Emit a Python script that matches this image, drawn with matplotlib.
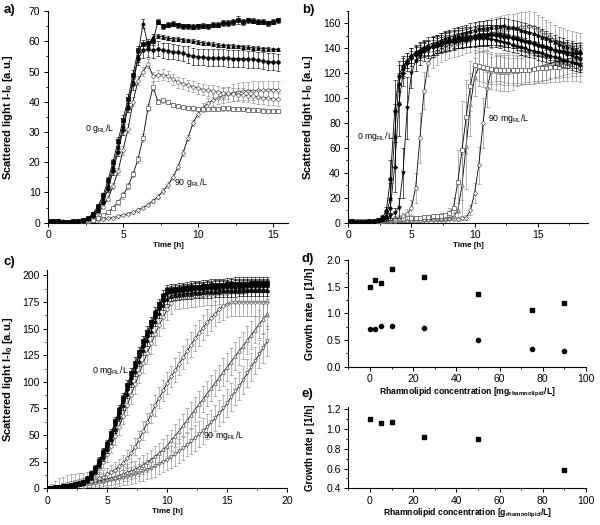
import matplotlib
matplotlib.use('Agg')
import matplotlib.pyplot as plt
from matplotlib.ticker import MultipleLocator

plt.rcParams['font.family'] = ['Liberation Sans', 'DejaVu Sans']
plt.rcParams['mathtext.fontset'] = 'custom'
plt.rcParams['mathtext.rm'] = 'Liberation Sans'
plt.rcParams['mathtext.it'] = 'Liberation Sans'
plt.rcParams['mathtext.bf'] = 'Liberation Sans:bold'

# ---------------- time grids ----------------
TIME_A = [0, 0.33, 0.67, 1, 1.33, 1.67, 2, 2.33, 2.67, 3,
          3.33, 3.67, 4, 4.33, 4.67, 5, 5.33, 5.67, 6, 6.33,
          6.67, 7, 7.33, 7.67, 8, 8.33, 8.67, 9, 9.33, 9.67,
          10, 10.33, 10.67, 11, 11.33, 11.67, 12, 12.33, 12.67, 13,
          13.33, 13.67, 14, 14.33, 14.67, 15, 15.33]
TIME_BC = TIME_A + [15.67, 16, 16.33, 16.67, 17, 17.33, 17.67, 18, 18.33]

# ---------------- panel a (g/L) ----------------
A_SQ = [0.5, 0.5, 0.4, 0.3, 0.3, 0.4, 0.6, 0.9, 1.6, 3.0,
        5.5, 9.0, 14, 20, 27, 34, 41, 49, 57, 59,
        59.5, 60, 66.5, 65, 65.5, 65.8, 65.3, 65, 65, 64.8,
        65, 65.2, 65, 65.5, 65.5, 66, 66, 66.5, 67, 66.5,
        67, 66.8, 66.5, 66.5, 66, 66.5, 67]
A_SQ_ERR = [0.3, 0.3, 0.3, 0.3, 0.3, 0.3, 0.3, 0.3, 0.3, 0.4,
            0.5, 0.8, 1.0, 1.2, 1.5, 1.5, 1.5, 1.5, 1.5, 1.5,
            1.2, 1.2, 0.8, 0.8, 0.8, 0.8, 0.8, 0.8, 0.8, 0.8,
            0.8, 0.8, 0.8, 0.8, 0.9, 0.9, 1.0, 1.0, 1.2, 1.0,
            0.8, 0.8, 0.8, 0.8, 0.8, 0.8, 0.8]
A_TR = [0.4, 0.4, 0.3, 0.3, 0.3, 0.4, 0.5, 0.8, 1.4, 2.6,
        4.8, 8.0, 12.5, 18.5, 25, 32, 39, 47, 55, 66,
        58.5, 61.5, 61.8, 61.5, 61, 60.8, 60.8, 60.5, 60.3, 60,
        59.8, 59.5, 59.3, 59, 58.8, 58.6, 58.5, 58.5, 58.3, 58.2,
        58, 57.8, 57.8, 57.6, 57.5, 57.3, 57.3]
A_TR_ERR = [0.3, 0.3, 0.3, 0.3, 0.3, 0.3, 0.3, 0.3, 0.3, 0.4,
            0.5, 0.7, 1.0, 1.2, 1.5, 1.5, 1.5, 1.5, 2.0, 1.5,
            1.5, 1.0, 0.7, 0.7, 0.6, 0.6, 0.6, 0.6, 0.6, 0.6,
            0.6, 0.6, 0.6, 0.6, 0.6, 0.6, 0.6, 0.6, 0.6, 0.6,
            0.6, 0.6, 0.6, 0.6, 0.6, 0.6, 0.6]
A_CI = [0.5, 0.4, 0.4, 0.3, 0.3, 0.3, 0.4, 0.6, 1.2, 2.2,
        4.0, 7.0, 11, 17, 23.5, 30.5, 38, 46, 54, 57,
        57.3, 57, 57.5, 57, 56.8, 56.5, 56.3, 56, 55.5, 55,
        54.8, 54.8, 54.6, 54.5, 54.5, 54.5, 54.4, 54.3, 54.3, 54.2,
        54, 54, 53.8, 53.5, 53.3, 53.2, 53]
A_CI_ERR = [0.3, 0.3, 0.3, 0.3, 0.3, 0.3, 0.3, 0.3, 0.3, 0.4,
            0.6, 0.8, 1.0, 1.2, 1.5, 1.5, 1.5, 2, 2, 2.5,
            2.5, 2.5, 2.5, 2.5, 2.5, 2.5, 2.5, 2.5, 2.8, 2.8,
            2.8, 2.8, 2.8, 2.8, 2.8, 2.8, 2.8, 2.8, 2.8, 2.8,
            2.8, 2.8, 2.8, 2.8, 2.8, 2.8, 2.8]
A_OC = [0.6, 0.5, 0.4, 0.3, 0.2, 0.3, 0.4, 0.6, 1.0, 2.0,
        3.3, 5.3, 8, 12, 17, 24, 31, 40, 47, 50,
        52.5, 48.5, 48.8, 49, 48.5, 47.5, 46.5, 46, 45.5, 45,
        44.5, 44, 43.8, 43.5, 43.3, 43, 42.8, 42.5, 42.3, 42.2,
        42, 41.8, 41.6, 41.4, 41.2, 41, 40.8]
A_OC_ERR = [0.3, 0.3, 0.3, 0.3, 0.3, 0.3, 0.3, 0.3, 0.3, 0.4,
            0.5, 0.6, 0.8, 1.0, 1.2, 1.5, 1.5, 1.5, 1.5, 1.5,
            1.5, 1.5, 1.8, 1.8, 1.8, 1.8, 1.8, 1.8, 1.8, 1.8,
            1.8, 1.8, 1.8, 2, 2, 2, 2, 2.2, 2.2, 2.2,
            2.2, 2.2, 2.2, 2.2, 2.2, 2.2, 2.2]
A_OS = [0.5, 0.5, 0.4, 0.3, 0.3, 0.3, 0.3, 0.4, 0.6, 1.0,
        1.6, 2.4, 3.5, 5, 6.8, 9, 12, 16, 21, 28,
        38, 45, 40, 40.5, 39.8, 39, 38.5, 38.2, 38, 37.8,
        37.6, 37.5, 37.5, 37.6, 37.7, 37.8, 37.8, 37.7, 37.6, 37.5,
        37.4, 37.3, 37.2, 37.1, 37, 37, 36.9]
A_OS_ERR = [0.3, 0.3, 0.3, 0.3, 0.3, 0.3, 0.3, 0.3, 0.3, 0.3,
            0.3, 0.4, 0.5, 0.6, 0.8, 1, 1, 1, 1.2, 1.2,
            1.2, 1.5, 0.8, 0.8, 0.7, 0.7, 0.7, 0.7, 0.7, 0.7,
            0.7, 0.7, 0.7, 0.7, 0.7, 0.7, 0.7, 0.7, 0.7, 0.7,
            0.7, 0.7, 0.7, 0.7, 0.7, 0.7, 0.7]
A_90 = [0.8, 0.6, 0.5, 0.4, 0.3, 0.3, 0.3, 0.4, 0.5, 0.7,
        0.9, 1.1, 1.4, 1.7, 2.1, 2.5, 3, 3.5, 4.2, 5,
        6, 7.2, 8.6, 10.5, 12.5, 15, 18.5, 23, 28, 33,
        36, 38, 39.5, 40.5, 41.3, 42, 42.5, 43, 43.3, 43.5,
        43.6, 43.7, 43.8, 43.8, 43.9, 44, 44]
A_90_ERR = [0.4, 0.4, 0.3, 0.3, 0.3, 0.3, 0.3, 0.3, 0.3, 0.3,
            0.3, 0.3, 0.3, 0.3, 0.4, 0.4, 0.4, 0.5, 0.5, 0.6,
            0.6, 0.7, 0.8, 0.9, 1.0, 1.0, 1.0, 1.0, 1.0, 1.0,
            1.2, 1.5, 1.8, 2, 2.2, 2.5, 2.5, 2.8, 2.8, 3,
            3, 3, 3, 3, 3, 3, 3]

# ---------------- panel b (mg/L) ----------------
B_C0 = [1, 1, 0.5, 0.5, 0.5, 1, 1.5, 2.5, 4, 9,
        35, 90, 118, 126, 130, 134, 136, 138, 140, 141,
        142, 143, 144, 145, 146, 147, 147.5, 148, 148.5, 149,
        149.5, 150, 150, 150.5, 150.5, 150.5, 150, 149.5, 149, 148.5,
        148, 147, 146, 145, 144, 143, 142, 141, 140, 139,
        138, 137.5, 137, 136.5, 136, 136]
B_C0_ERR = [1, 1, 1, 1, 1, 1, 1, 1.5, 2, 4,
            15, 25, 12, 8, 6, 6, 6, 6, 6, 6,
            7, 7, 7, 7, 7, 7, 7, 7, 7, 7,
            8, 8, 8, 8, 8, 8, 8, 8, 8, 8,
            8, 8, 8, 8, 8, 8, 8, 8, 8, 8,
            8, 8, 8, 8, 8, 8]
B_C2p5 = [1, 1, 0.5, 0.5, 0.5, 1, 1.5, 2.5, 3.5, 6,
          20, 70, 112, 124, 130, 134, 137, 139, 141, 143,
          144, 145, 146.5, 148, 149, 150, 151, 152, 153, 154,
          155, 156, 156, 156.5, 157, 157.5, 158, 158.5, 157.5, 157,
          156, 155, 154, 153, 152, 151, 149.5, 148, 146.5, 145,
          143.5, 142, 141, 140, 138.5, 137]
B_C2p5_ERR = [1, 1, 1, 1, 1, 1, 1, 1.5, 2, 3,
              12, 25, 15, 8, 6, 6, 6, 6, 6, 6,
              6, 6, 6, 6, 6, 6, 6, 6, 6, 6,
              6, 6, 6, 6, 6, 6, 6, 6, 6, 6,
              6, 6, 6, 6, 6, 6, 6, 6, 6, 6,
              6, 6, 6, 6, 6, 6]
B_C5 = [1, 1, 0.5, 0.5, 0.5, 1, 1, 2, 3, 4.5,
        12, 45, 95, 120, 128, 132, 135, 137, 139, 140,
        141, 142, 143, 144, 145, 145.5, 146, 146.5, 147, 147.5,
        148, 148, 148, 148, 147.5, 147, 146, 145, 144, 143,
        142, 141, 140, 139, 138, 137, 136, 135, 134, 133,
        132, 131, 130, 129, 128, 127]
B_C5_ERR = [1, 1, 1, 1, 1, 1, 1, 1.5, 2, 3,
            8, 20, 25, 10, 6, 6, 6, 6, 6, 6,
            6, 6, 6, 6, 6, 6, 6, 6, 6, 6,
            6, 6, 6, 6, 6, 6, 6, 6, 6, 6,
            6, 6, 6, 6, 6, 6, 6, 6, 6, 6,
            6, 6, 6, 6, 6, 6]
B_C10 = [1, 1, 0.5, 0.5, 0.5, 1, 1, 1.5, 2, 3,
         5, 8, 12, 40, 92, 120, 130, 134, 137, 139,
         141, 142.5, 144, 145, 146, 147, 148, 148.5, 149, 149.5,
         150, 150.5, 151, 151, 151, 151, 150.5, 150, 149, 148,
         147, 146, 145, 144, 143, 142, 141, 140, 139, 138,
         137, 136, 135, 134, 132.5, 131]
B_C10_ERR = [1, 1, 1, 1, 1, 1, 1, 1, 1, 1,
             3, 4, 8, 20, 25, 12, 8, 7, 7, 7,
             8, 8, 8, 8, 8, 8, 8, 8, 8, 8,
             8, 8, 8, 8, 8, 8, 8, 8, 8, 8,
             8, 8, 8, 8, 8, 8, 8, 8, 8, 8,
             8, 8, 8, 8, 8, 8]
B_C25 = [1, 1, 1, 0.5, 0.5, 1, 1, 1.5, 2, 2.5,
         3, 3.5, 4, 5, 7, 12, 28, 68, 106, 128,
         134, 137, 139, 140.5, 142, 143, 144, 145, 146, 147,
         148, 149, 150, 151, 152, 153, 154, 155, 155.5, 156,
         156.5, 157, 157.5, 158, 157, 155, 153, 151, 149, 147,
         145.5, 144, 143, 142, 141, 140]
B_C25_ERR = [1, 1, 1, 1, 1, 1, 1, 1.5, 2, 2,
             2, 2, 2, 3, 4, 6, 12, 20, 15, 10,
             10, 10, 10, 10, 10, 10, 10, 10, 10, 10,
             12, 12, 12, 12, 12, 12, 12, 12, 12, 12,
             12, 12, 12, 12, 12, 12, 12, 12, 12, 12,
             12, 12, 12, 12, 12, 12]
B_C50 = [1, 1, 1, 1, 1, 1, 1.5, 1.5, 2, 2,
         2.5, 2.5, 3, 3, 3.5, 3.5, 4, 4, 4.5, 4.5,
         5, 5, 5.5, 6, 8, 12, 33, 58, 85, 110,
         127, 126, 125, 124, 123.5, 123, 123, 122.5, 122.5, 122.5,
         122.5, 123, 123, 123, 123.5, 124, 124, 124.5, 125, 125,
         125, 125.5, 125.5, 125.5, 125.5, 125]
B_C50_ERR = [1, 1, 1, 1, 1, 1, 1, 1, 1, 1,
             1, 1, 1, 1, 1, 1, 1.5, 1.5, 1.5, 1.5,
             2, 2, 2, 2, 4, 8, 25, 40, 30, 20,
             12, 12, 12, 12, 12, 12, 12, 12, 12, 12,
             12, 12, 12, 12, 12, 12, 12, 12, 12, 12,
             12, 12, 12, 12, 12, 12]
B_C75 = [1, 1, 1, 1, 0.5, 0.5, 1, 1, 1, 1.5,
         1.5, 1.5, 2, 2, 2, 2.5, 2.5, 2.5, 3, 3,
         3, 3.5, 3.5, 3.5, 4, 5, 10, 30, 62, 95,
         117, 125, 124, 123, 122, 121.5, 121, 121, 121, 121.5,
         122, 122.5, 123, 123.5, 124, 125, 126, 127, 128, 129,
         130, 131, 131.5, 132, 132.5, 133]
B_C75_ERR = [1, 1, 1, 1, 1, 1, 1, 1, 1, 1,
             1, 1, 1, 1, 1, 1, 1.5, 1.5, 1.5, 1.5,
             2, 2, 2, 2, 2, 3, 6, 25, 35, 25,
             15, 15, 15, 15, 15, 15, 15, 15, 15, 15,
             12, 12, 12, 12, 12, 12, 12, 12, 12, 12,
             12, 12, 12, 12, 12, 12]
B_C90 = [1, 1, 1, 1, 0.5, 0.5, 0.5, 1, 1, 1,
         1, 1, 1.5, 1.5, 1.5, 1.5, 2, 2, 2, 2,
         2.5, 2.5, 2.5, 2.5, 3, 3, 3, 3.5, 4, 10,
         24, 46, 80, 108, 123, 124, 123.5, 123, 122.5, 122.5,
         122.5, 122.5, 123, 123, 123.5, 124, 124.5, 125, 125.5, 126,
         126.5, 127, 127, 127.5, 128, 128]
B_C90_ERR = [1, 1, 1, 1, 1, 1, 1, 1, 1, 1,
             1, 1, 1, 1, 1, 1, 1, 1, 1, 1,
             1, 1, 1, 1, 1, 1, 1.5, 1.5, 2, 4,
             8, 15, 20, 15, 10, 10, 10, 10, 10, 10,
             10, 10, 10, 10, 10, 10, 10, 10, 10, 10,
             10, 10, 10, 10, 10, 10]

# ---------------- panel c (mg/L) ----------------
C_C0 = [0, 0.5, 1, 1.5, 2, 2.5, 3, 3.5, 4.5, 6,
        9, 13, 19, 26, 34, 42, 52, 63, 74, 85,
        97, 108, 118, 128, 138, 147, 156, 165, 173, 181,
        186, 186.5, 187, 187.5, 188, 188.5, 189, 189, 189.5, 190,
        190, 190.5, 190.5, 191, 191, 191.5, 191.5, 192, 192, 192,
        192, 192.5, 192.5, 192.5, 192.5, 192.5]
C_C2p5 = [0, 0.5, 1, 1.5, 2, 2.5, 3, 3.5, 4, 5.5,
          8, 12, 17, 24, 32, 40, 49, 60, 71, 82,
          93, 104, 114, 124, 134, 143, 152, 161, 169, 177,
          183, 184, 184.5, 185, 185.5, 186, 186.5, 187, 187, 187.5,
          188, 188, 188.5, 188.5, 189, 189, 189, 189.5, 189.5, 189.5,
          190, 190, 190, 190, 190, 190]
C_C5 = [0, 0.5, 1, 1.5, 2, 2.5, 3, 3.5, 4, 5,
        7.5, 11, 16, 22, 29, 37, 46, 56, 67, 78,
        89, 100, 110, 120, 130, 139, 148, 157, 165, 172,
        178, 181, 181.5, 182, 182.5, 183, 183.5, 184, 184, 184.5,
        185, 185, 185.5, 185.5, 186, 186, 186, 186, 186.5, 186.5,
        186.5, 186.5, 186.5, 186.5, 186.5, 186.5]
C_C10 = [0, 0.5, 1, 1.5, 2, 2.5, 3, 3.5, 4.5, 6,
         9, 13, 18, 25, 33, 41, 50, 61, 72, 83,
         94, 105, 115, 125, 135, 144, 153, 162, 170, 178,
         184, 185, 185.5, 186, 186.5, 187, 187.5, 188, 188, 188.5,
         189, 189, 189.5, 189.5, 190, 190, 190.5, 190.5, 190.5, 191,
         191, 191, 191, 191, 191, 191]
C_C25 = [0, 0.5, 1, 1.5, 2, 2.5, 3, 3.5, 4, 5,
         7, 10, 14, 19, 25, 32, 40, 49, 58, 68,
         78, 88, 98, 108, 118, 127, 136, 145, 153, 161,
         168, 174, 178, 178.5, 179, 179.5, 180, 180.5, 181, 181.5,
         182, 182, 182.5, 183, 183, 183.5, 184, 184, 184.5, 184.5,
         185, 185, 185, 185, 185, 185]
C_C50 = [0, 0.5, 1, 1.5, 2, 2.5, 3, 3.5, 4, 5,
         6, 7, 8, 9.5, 11, 13, 15, 17.5, 20.5, 24,
         28, 33, 39, 46, 54, 62, 70, 78, 85, 92,
         99, 105, 111, 117, 123, 129, 135, 141, 146, 151,
         156, 160, 164, 168, 171, 173.5, 174.5, 175, 175, 175,
         175, 175, 175, 175, 175, 175]
C_C75 = [0, 0.5, 1, 1.5, 2, 2.5, 3, 3.5, 4, 4.5,
         5, 5.5, 6, 7, 8, 9, 10, 11, 12, 13.5,
         15, 16.5, 18, 20, 22, 24.5, 27, 30, 33, 36.5,
         40, 45, 49.5, 54, 59, 64, 69, 74, 79, 84,
         89, 94, 99, 104, 109, 114, 119, 124, 129, 134,
         139, 144, 149, 154, 159, 164]
C_C90 = [0, 0.5, 1, 1.5, 2, 2, 2.5, 3, 3, 3.5,
         4, 4.5, 5, 5.5, 6, 7, 7.5, 8, 9, 10,
         11, 12, 13, 14.5, 16, 17.5, 19, 21, 23, 25,
         27, 29.5, 32, 35, 38, 41, 44, 47.5, 51, 54,
         58, 62, 66, 70.5, 75, 80, 86, 91, 96, 102,
         108, 114, 120, 126, 132, 138]
C_ERR_BLACK = [1, 1, 1, 1, 1.5, 1.5, 1.5, 2, 2, 2,
               2.5, 3, 3, 3, 3.5, 3.5, 4, 4, 4, 4.5,
               4.5, 5, 5, 5, 5, 5, 5, 5, 5, 5,
               5, 5, 5, 5, 5, 5, 5.5, 5.5, 5.5, 5.5,
               6, 6, 6, 6, 6, 6, 6, 6, 6, 6,
               6, 6, 6, 6, 6, 6]
C_ERR_C25 = [2, 4, 6, 8, 9, 10, 10, 10, 10, 9,
             8, 7, 6, 6, 6, 7, 7, 8, 8, 8,
             9, 9, 9, 9, 10, 10, 10, 10, 10, 10,
             10, 10, 10, 10, 10, 10, 10, 10, 10, 10,
             10, 10, 10, 10, 10, 10, 10, 10, 10, 10,
             10, 10, 10, 10, 10, 10]
C_ERR_LATE = [1, 1, 2, 2, 3, 3, 4, 4, 5, 5,
              5, 6, 6, 6, 6, 6, 7, 7, 7, 7,
              8, 8, 8, 8, 9, 9, 9, 10, 10, 10,
              10, 10, 11, 11, 11, 11, 12, 12, 12, 12,
              12, 12, 12, 12, 13, 13, 13, 13, 13, 13,
              13, 13, 13, 13, 14, 14]

# ---------------- panels d, e ----------------
D_CONC = [0, 2.5, 5, 10, 25, 50, 75, 90]
D_MU_SQ = [1.50, 1.63, 1.57, 1.83, 1.69, 1.37, 1.07, 1.19]
D_MU_CI = [0.71, 0.70, 0.76, 0.76, 0.72, 0.50, 0.33, 0.29]
E_CONC = [0, 5, 10, 25, 50, 90]
E_MU = [1.10, 1.06, 1.07, 0.92, 0.90, 0.59]

TICK_FS = 7.5
XLAB_FS = 5.8
XLAB_FS_DE = 6.2
YLAB_FS = 8.0
ANN_FS = 6.3
GRAY = '#8c8c8c'

fig = plt.figure(figsize=(6, 5.25), dpi=100)
axA = fig.add_axes([0.080, 0.5758, 0.400, 0.4032])
axB = fig.add_axes([0.5805, 0.5758, 0.400, 0.4032])
axC = fig.add_axes([0.0788, 0.0699, 0.400, 0.4158])
axD = fig.add_axes([0.5805, 0.3015, 0.396, 0.2032])
axE = fig.add_axes([0.5805, 0.0699, 0.396, 0.1543])


def style(ax, xmaj, xmin, ymaj, ymin):
    for s in ('top', 'right'):
        ax.spines[s].set_visible(False)
    for s in ('left', 'bottom'):
        ax.spines[s].set_linewidth(0.8)
    ax.xaxis.set_major_locator(MultipleLocator(xmaj))
    ax.xaxis.set_minor_locator(MultipleLocator(xmin))
    ax.yaxis.set_major_locator(MultipleLocator(ymaj))
    ax.yaxis.set_minor_locator(MultipleLocator(ymin))
    ax.tick_params(which='major', direction='out', length=3, width=0.7,
                   labelsize=TICK_FS, pad=2.5)
    ax.tick_params(which='minor', direction='out', length=1.6, width=0.6)


def series(ax, t, y, e, marker, filled, z, ms=2.6):
    ecol = 'black' if filled else GRAY
    ax.errorbar(t, y, yerr=e, fmt='none', ecolor=ecol, elinewidth=0.45,
                capsize=1.6, capthick=0.45, zorder=z)
    ax.plot(t, y, '-', color='black', lw=0.6, zorder=z + 0.1)
    ax.plot(t, y, linestyle='none', marker=marker, ms=ms,
            mfc='black' if filled else 'white',
            mec='black' if filled else '#555555', mew=0.5, zorder=z + 0.2)


def ylab(ax, text, size, xpos):
    ax.set_ylabel(text, fontsize=size, fontweight='bold')
    ax.yaxis.set_label_coords(xpos, 0.5)


# ---- a ----
series(axA, TIME_A, A_90, A_90_ERR, 'D', False, 2, ms=2.2)
series(axA, TIME_A, A_OS, A_OS_ERR, 's', False, 3)
series(axA, TIME_A, A_OC, A_OC_ERR, 'o', False, 4)
series(axA, TIME_A, A_CI, A_CI_ERR, 'o', True, 5)
series(axA, TIME_A, A_TR, A_TR_ERR, '^', True, 6)
series(axA, TIME_A, A_SQ, A_SQ_ERR, 's', True, 7)
axA.set_xlim(0, 16)
axA.set_ylim(0, 70)
style(axA, 5, 2.5, 10, 5)
axA.set_xlabel('Time [h]', fontsize=XLAB_FS, fontweight='bold', labelpad=1.5)
ylab(axA, r'Scattered light I-I$_{\mathbf{0}}$ [a.u.]', YLAB_FS, -0.1375)
axA.text(2.47, 31.3, r'0 g$_{\mathrm{RL}}$/L', fontsize=ANN_FS, va='center')
axA.text(8.4, 13.2, r'90 g$_{\mathrm{RL}}$/L', fontsize=ANN_FS, va='center')

# ---- b ----
series(axB, TIME_BC, B_C90, B_C90_ERR, 'D', False, 2, ms=2.2)
series(axB, TIME_BC, B_C75, B_C75_ERR, '^', False, 2.5)
series(axB, TIME_BC, B_C50, B_C50_ERR, 's', False, 3)
series(axB, TIME_BC, B_C25, B_C25_ERR, 'o', False, 3.5)
series(axB, TIME_BC, B_C10, B_C10_ERR, 'v', True, 4)
series(axB, TIME_BC, B_C5, B_C5_ERR, 'D', True, 4.5, ms=2.2)
series(axB, TIME_BC, B_C2p5, B_C2p5_ERR, '^', True, 5)
series(axB, TIME_BC, B_C0, B_C0_ERR, 'o', True, 5.5)
axB.set_xlim(0, 19)
axB.set_ylim(0, 170)
style(axB, 5, 2.5, 20, 10)
axB.set_xlabel('Time [h]', fontsize=XLAB_FS, fontweight='bold', labelpad=1.5)
ylab(axB, r'Scattered light I-I$_{\mathbf{0}}$ [a.u.]', YLAB_FS, -0.139)
axB.text(0.66, 69, r'0 mg$_{\mathrm{RL}}$/L', fontsize=ANN_FS, va='center')
axB.text(11.05, 83.8, r'90 mg$_{\mathrm{RL}}$/L', fontsize=ANN_FS, va='center')

# ---- c ----
series(axC, TIME_BC, C_C90, C_ERR_LATE, 'v', False, 2)
series(axC, TIME_BC, C_C75, C_ERR_LATE, '^', False, 2.5)
series(axC, TIME_BC, C_C50, C_ERR_LATE, 'D', False, 3, ms=2.2)
series(axC, TIME_BC, C_C25, C_ERR_C25, 'o', False, 3.5)
series(axC, TIME_BC, C_C10, C_ERR_BLACK, 'v', True, 4)
series(axC, TIME_BC, C_C5, C_ERR_BLACK, '^', True, 4.5)
series(axC, TIME_BC, C_C2p5, C_ERR_BLACK, 'o', True, 5)
series(axC, TIME_BC, C_C0, C_ERR_BLACK, 's', True, 5.5)
axC.set_xlim(0, 20)
axC.set_ylim(0, 205)
style(axC, 5, 2.5, 25, 12.5)
axC.set_xlabel('Time [h]', fontsize=XLAB_FS, fontweight='bold', labelpad=1.5)
ylab(axC, r'Scattered light I-I$_{\mathbf{0}}$ [a.u.]', YLAB_FS, -0.135)
axC.text(3.7, 110.8, r'0 mg$_{\mathrm{RL}}$/L', fontsize=ANN_FS, va='center')
axC.text(13.0, 50, r'90 mg$_{\mathrm{RL}}$/L', fontsize=ANN_FS, va='center')

# ---- d ----
axD.plot(D_CONC, D_MU_SQ, linestyle='none', marker='s', ms=3, color='black')
axD.plot(D_CONC, D_MU_CI, linestyle='none', marker='o', ms=3, color='black')
axD.set_xlim(-10, 100)
axD.set_ylim(0, 2.0)
style(axD, 20, 10, 0.5, 0.25)
axD.set_xlabel(r'Rhamnolipid concentration [mg$_{\mathbf{rhamnolipid}}$/L]',
               fontsize=XLAB_FS_DE, fontweight='bold', labelpad=1)
ylab(axD, r'Growth rate μ [1/h]', 7.5, -0.140)

# ---- e ----
axE.plot(E_CONC, E_MU, linestyle='none', marker='s', ms=3, color='black')
axE.set_xlim(-10, 100)
axE.set_ylim(0.4, 1.22)
style(axE, 20, 10, 0.2, 0.1)
axE.set_xlabel(r'Rhamnolipid concentration [g$_{\mathbf{rhamnolipid}}$/L]',
               fontsize=XLAB_FS_DE, fontweight='bold', labelpad=1)
ylab(axE, r'Growth rate μ [1/h]', 7.0, -0.140)

for lab, x, y in (('a)', 0.006, 0.981), ('b)', 0.503, 0.981),
                  ('c)', 0.006, 0.501), ('d)', 0.503, 0.507),
                  ('e)', 0.503, 0.2495)):
    fig.text(x, y, lab, fontsize=9.5, fontweight='bold', va='center', ha='left')

fig.savefig('out.png', dpi=100)
